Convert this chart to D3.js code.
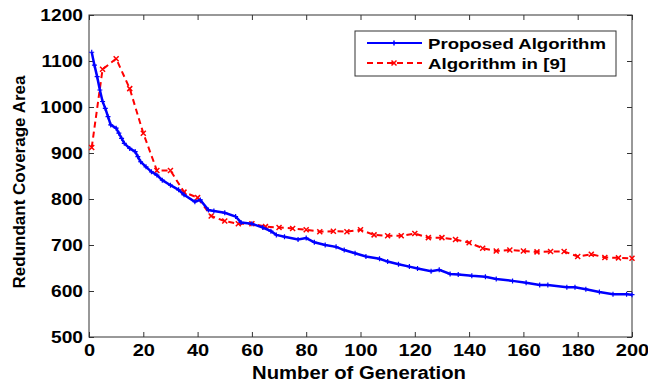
<!DOCTYPE html>
<html>
<head>
<meta charset="utf-8">
<script src="https://cdn.jsdelivr.net/npm/d3@7"></script>
<style>
body { margin: 0; background: #fff; }
text { font-family: "Liberation Sans", Arial, sans-serif; font-weight: bold; fill: #000; }
</style>
</head>
<body>
<script>
// values
var blueGen = [1, 2, 3, 4, 5, 6, 7, 8, 10, 11, 12, 13, 15, 17, 18, 19, 21, 23, 25, 27,
               30, 33, 35, 39, 41, 44, 46, 50, 54, 56, 60, 64, 67, 69, 72, 77, 80, 83, 87, 91,
               94, 98, 102, 107, 110, 114, 118, 121, 126, 129, 133, 136, 141, 146, 150, 156, 161, 166, 169, 176,
               179, 183, 188, 193, 198, 200];
var blueVal = [1119, 1091, 1066, 1037, 1012, 997, 979, 961, 954, 943, 932, 921, 910, 903, 892, 881, 870, 859, 852, 841,
               830, 820, 809, 794, 798, 776, 774, 770, 762, 749, 746, 738, 730, 722, 718, 712, 715, 706, 700, 696,
               689, 682, 675, 670, 664, 658, 653, 649, 643, 646, 637, 636, 633, 631, 626, 622, 618, 613, 613, 608,
               608, 604, 598, 593, 593, 592];

var redGen = [1, 5, 10, 15, 20, 25, 30, 35, 40, 45, 50, 55, 60, 65, 70, 75, 80, 85, 90, 95,
              100, 105, 110, 115, 120, 125, 130, 135, 140, 145, 150, 155, 160, 165, 170, 175, 180, 185, 190, 195, 200];
var redVal = [912, 1082, 1105, 1040, 943, 862, 862, 815, 803, 763, 752, 746, 746, 740, 738, 736, 733, 729, 730, 729,
              733, 722, 720, 720, 725, 716, 716, 712, 705, 693, 687, 689, 687, 685, 686, 686, 675, 680, 673, 672, 671];

var xTicks = [0, 20, 40, 60, 80, 100, 120, 140, 160, 180, 200];
var yTicks = [500, 600, 700, 800, 900, 1000, 1100, 1200];
var seriesNames = ["Proposed Algorithm", "Algorithm in [9]"];

var svgW = 648;
var svgH = 385;
var plotL = 89, plotR = 632, plotT = 15, plotB = 337;

var svg = d3.select("body").append("svg")
            .attr("width", svgW)
            .attr("height", svgH);

var xScale = d3.scaleLinear().domain([0, 200]).range([plotL, plotR]);
var yScale = d3.scaleLinear().domain([500, 1200]).range([plotB, plotT]);
var plain = d3.format("d");

/* ---- axes ---- */
var gx = svg.append("g")
            .attr("transform", "translate(0," + plotB + ")")
            .call(d3.axisBottom(xScale).tickValues(xTicks).tickFormat(plain).tickSizeInner(-5).tickSizeOuter(0));
gx.selectAll("text")
  .attr("y", 19).attr("dy", 0)
  .attr("font-size", "17px")
  .attr("transform", "scale(1.18,1)");

var gy = svg.append("g")
            .attr("transform", "translate(" + plotL + ",0)")
            .call(d3.axisLeft(yScale).tickValues(yTicks).tickFormat(plain).tickSizeInner(-5).tickSizeOuter(0));
gy.selectAll("text")
  .attr("x", 0).attr("dy", "0.36em")
  .attr("font-size", "16px")
  .attr("transform", "translate(-6,0) scale(1.2,1)");

svg.append("g")
   .attr("transform", "translate(0," + plotT + ")")
   .call(d3.axisTop(xScale).tickValues(xTicks).tickSizeInner(-5).tickSizeOuter(0).tickFormat(""));
svg.append("g")
   .attr("transform", "translate(" + plotR + ",0)")
   .call(d3.axisRight(yScale).tickValues(yTicks).tickSizeInner(-5).tickSizeOuter(0).tickFormat(""));

svg.selectAll(".domain").remove();
svg.selectAll(".tick line").attr("stroke", "#333");

svg.append("rect")
   .attr("x", plotL).attr("y", plotT)
   .attr("width", plotR - plotL).attr("height", plotB - plotT)
   .attr("fill", "none").attr("stroke", "#333").attr("stroke-width", 1);

/* ---- series ---- */
var blueIdx = d3.range(blueGen.length);
var redIdx = d3.range(redGen.length);

var plusPath = "M-2.5,0H2.5M0,-2.5V2.5";
var crossPath = "M-2.5,-2.5L2.5,2.5M-2.5,2.5L2.5,-2.5";

svg.append("path")
   .datum(redIdx)
   .attr("fill", "none")
   .attr("stroke", "#ff0000")
   .attr("stroke-width", 2)
   .attr("stroke-dasharray", "6,4")
   .attr("d", d3.line().x(function (i) { return xScale(redGen[i]); })
                       .y(function (i) { return yScale(redVal[i]); }));

svg.selectAll(".redMark")
   .data(redIdx).enter()
   .append("path")
   .attr("class", "redMark")
   .attr("transform", function (i) { return "translate(" + xScale(redGen[i]) + "," + yScale(redVal[i]) + ")"; })
   .attr("d", crossPath)
   .attr("stroke", "#ff0000").attr("stroke-width", 1.5);

svg.append("path")
   .datum(blueIdx)
   .attr("fill", "none")
   .attr("stroke", "#0000ff")
   .attr("stroke-width", 2.5)
   .attr("d", d3.line().x(function (i) { return xScale(blueGen[i]); })
                       .y(function (i) { return yScale(blueVal[i]); }));

svg.selectAll(".blueMark")
   .data(blueIdx).enter()
   .append("path")
   .attr("class", "blueMark")
   .attr("transform", function (i) { return "translate(" + xScale(blueGen[i]) + "," + yScale(blueVal[i]) + ")"; })
   .attr("d", plusPath)
   .attr("stroke", "#0000ff").attr("stroke-width", 1.2);

/* ---- labels ---- */
svg.append("text")
   .attr("x", 359).attr("y", 379)
   .attr("text-anchor", "middle")
   .attr("font-size", "18px")
   .attr("textLength", 214).attr("lengthAdjust", "spacingAndGlyphs")
   .text("Number of Generation");

svg.append("text")
   .attr("transform", "translate(25,182) rotate(-90)")
   .attr("text-anchor", "middle")
   .attr("font-size", "17px")
   .text("Redundant Coverage Area");

/* ---- legend ---- */
var legend = svg.append("g");
legend.append("rect")
      .attr("x", 355).attr("y", 31).attr("width", 261).attr("height", 45)
      .attr("fill", "#fff").attr("stroke", "#333").attr("stroke-width", 1);

var legColors = ["#0000ff", "#ff0000"];
var legDash = [null, "6,4"];
var legMark = [plusPath, crossPath];
var legWidths = [178, 138];
var legY = [43, 63];

seriesNames.forEach(function (name, k) {
  legend.append("line")
        .attr("x1", 367).attr("x2", 422)
        .attr("y1", legY[k]).attr("y2", legY[k])
        .attr("stroke", legColors[k]).attr("stroke-width", 2)
        .attr("stroke-dasharray", legDash[k]);
  legend.append("path")
        .attr("transform", "translate(394," + legY[k] + ")")
        .attr("d", legMark[k])
        .attr("stroke", legColors[k]).attr("stroke-width", 1.5);
  legend.append("text")
        .attr("x", 428).attr("y", legY[k] + 6)
        .attr("font-size", "15px")
        .attr("textLength", legWidths[k]).attr("lengthAdjust", "spacingAndGlyphs")
        .text(name);
});
</script>
</body>
</html>
